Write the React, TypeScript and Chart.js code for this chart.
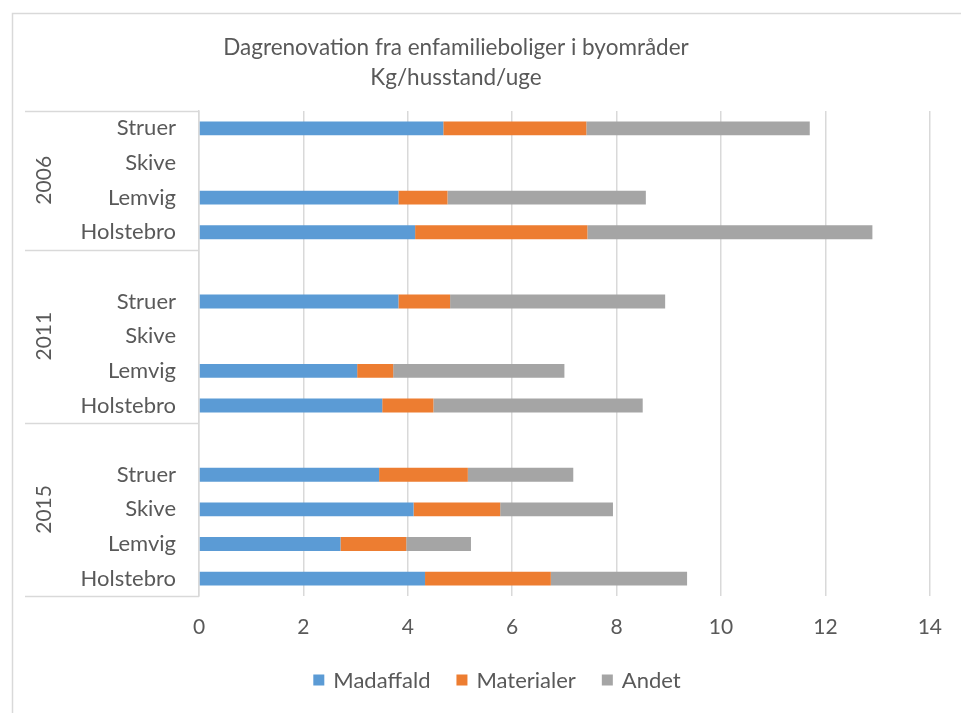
import React, { useEffect, useRef } from "react";
import { Chart, registerables } from "chart.js";

Chart.register(...registerables);

const years = ["2006", "2011", "2015"];
const cities = ["Struer", "Skive", "Lemvig", "Holstebro"];
const seriesNames = ["Madaffald", "Materialer", "Andet"];
const seriesColors = ["#5b9bd5", "#ed7d31", "#a5a5a5"];
const titleLines = ["Dagrenovation fra enfamilieboliger i byområder", "Kg/husstand/uge"];
const xTicks = [0, 2, 4, 6, 8, 10, 12, 14];

// values per year, in city order (Struer, Skive, Lemvig, Holstebro)
const madaffald2006 = [4.68, null, 3.82, 4.14];
const madaffald2011 = [3.82, null, 3.03, 3.51];
const madaffald2015 = [3.45, 4.11, 2.71, 4.33];
const materialer2006 = [2.74, null, 0.94, 3.3];
const materialer2011 = [0.99, null, 0.69, 0.98];
const materialer2015 = [1.7, 1.66, 1.26, 2.41];
const andet2006 = [4.28, null, 3.8, 5.46];
const andet2011 = [4.12, null, 3.28, 4.01];
const andet2015 = [2.02, 2.16, 1.24, 2.61];

const FONT = "Lato, 'Noto Sans', sans-serif";
const TEXT = "#595959";
const GRID = "#d9d9d9";

// Build the multi-level rows: each group after the first starts with an empty row
type Row = { label: string; group: number };
const rows: Row[] = [];
years.forEach((_, gi) => {
  if (gi > 0) rows.push({ label: "", group: gi });
  cities.forEach((c) => rows.push({ label: c, group: gi }));
});

function flatten(per: (number | null)[][]): (number | null)[] {
  const out: (number | null)[] = [];
  per.forEach((arr, gi) => {
    if (gi > 0) out.push(null);
    arr.forEach((v) => out.push(v));
  });
  return out;
}

const seriesData = [
  flatten([madaffald2006, madaffald2011, madaffald2015]),
  flatten([materialer2006, materialer2011, materialer2015]),
  flatten([andet2006, andet2011, andet2015]),
];

const decorPlugin = {
  id: "decor",
  afterDraw(chart: any) {
    const ctx = chart.ctx as CanvasRenderingContext2D;
    const y = chart.scales.y;
    const area = chart.chartArea;
    const step = rows.length > 1 ? Math.abs(y.getPixelForValue(1) - y.getPixelForValue(0)) : 0;
    ctx.save();
    // frame
    ctx.strokeStyle = GRID;
    ctx.lineWidth = 1.5;
    ctx.beginPath();
    ctx.moveTo(12.5, 713);
    ctx.lineTo(12.5, 13.5);
    ctx.lineTo(961, 13.5);
    ctx.stroke();

    // title
    ctx.fillStyle = TEXT;
    ctx.font = `22.5px ${FONT}`;
    ctx.textAlign = "center";
    ctx.textBaseline = "middle";
    titleLines.forEach((t, i) => ctx.fillText(t, 456, 48 + i * 30));

    // group separators + year labels
    ctx.strokeStyle = GRID;
    ctx.lineWidth = 1.5;
    const groupStart: number[] = [];
    const groupEnd: number[] = [];
    rows.forEach((r, i) => {
      if (groupStart[r.group] === undefined) groupStart[r.group] = i;
      groupEnd[r.group] = i;
    });
    const bounds: number[] = [];
    years.forEach((_, gi) => {
      bounds.push(y.getPixelForValue(groupStart[gi]) - step / 2);
    });
    bounds.push(y.getPixelForValue(groupEnd[years.length - 1]) + step / 2);
    bounds.forEach((b) => {
      ctx.beginPath();
      ctx.moveTo(25, Math.round(b) + 0.5);
      ctx.lineTo(area.left, Math.round(b) + 0.5);
      ctx.stroke();
    });
    ctx.font = `21px ${FONT}`;
    ctx.fillStyle = TEXT;
    years.forEach((yr, gi) => {
      const cy = (bounds[gi] + bounds[gi + 1]) / 2;
      ctx.save();
      ctx.translate(44, cy);
      ctx.rotate(-Math.PI / 2);
      ctx.textAlign = "center";
      ctx.textBaseline = "middle";
      ctx.fillText(yr, 0, 0);
      ctx.restore();
    });

    // legend
    ctx.font = `22px ${FONT}`;
    ctx.textBaseline = "middle";
    ctx.textAlign = "left";
    const box = 11;
    const gapBoxText = 9;
    const gapItems = 26;
    const widths = chart.data.datasets.map((d: any) => box + gapBoxText + ctx.measureText(d.label).width);
    const total = widths.reduce((a: number, b: number) => a + b, 0) + gapItems * (widths.length - 1);
    let x = 497 - total / 2;
    const ly = 680;
    chart.data.datasets.forEach((d: any, i: number) => {
      ctx.fillStyle = d.backgroundColor;
      ctx.fillRect(x, ly - box / 2, box, box);
      ctx.fillStyle = TEXT;
      ctx.fillText(d.label, x + box + gapBoxText, ly + 1);
      x += widths[i] + gapItems;
    });
    ctx.restore();
  },
};

export default function App() {
  const ref = useRef<HTMLCanvasElement | null>(null);
  useEffect(() => {
    if (!ref.current) return;
    const chart = new Chart(ref.current, {
      type: "bar",
      data: {
        labels: rows.map((r) => r.label),
        datasets: seriesNames.map((name, i) => ({
          label: name,
          data: seriesData[i],
          backgroundColor: seriesColors[i],
          borderWidth: 0,
          categoryPercentage: 0.4,
          barPercentage: 1,
        })),
      },
      options: {
        indexAxis: "y",
        animation: false,
        responsive: false,
        maintainAspectRatio: false,
        layout: { padding: { top: 111, right: 31, bottom: 67, left: 0 } },
        plugins: {
          legend: { display: false },
          title: { display: false },
          tooltip: { enabled: false },
        },
        scales: {
          x: {
            stacked: true,
            min: 0,
            max: 14,
            afterBuildTicks: (axis: any) => {
              axis.ticks = xTicks.map((v) => ({ value: v }));
            },
            afterFit: (axis: any) => {
              axis.height = 50;
            },
            grid: { color: GRID, lineWidth: 1.5, drawTicks: false },
            border: { display: false },
            ticks: {
              color: TEXT,
              font: { family: FONT, size: 21 },
              padding: 19,
            },
          },
          y: {
            stacked: true,
            afterFit: (axis: any) => {
              axis.width = 199;
            },
            grid: { display: false, drawTicks: false },
            border: { display: true, color: GRID, width: 1.5 },
            ticks: {
              color: TEXT,
              font: { family: FONT, size: 22 },
              padding: 23,
              autoSkip: false,
            },
          },
        },
      },
      plugins: [decorPlugin],
    } as any);
    return () => chart.destroy();
  }, []);
  return (
    <div style={{ position: "absolute", left: 0, top: 0, width: 961, height: 713, background: "#fff" }}>
      <canvas ref={ref} width={961} height={713} style={{ display: "block" }} />
    </div>
  );
}
